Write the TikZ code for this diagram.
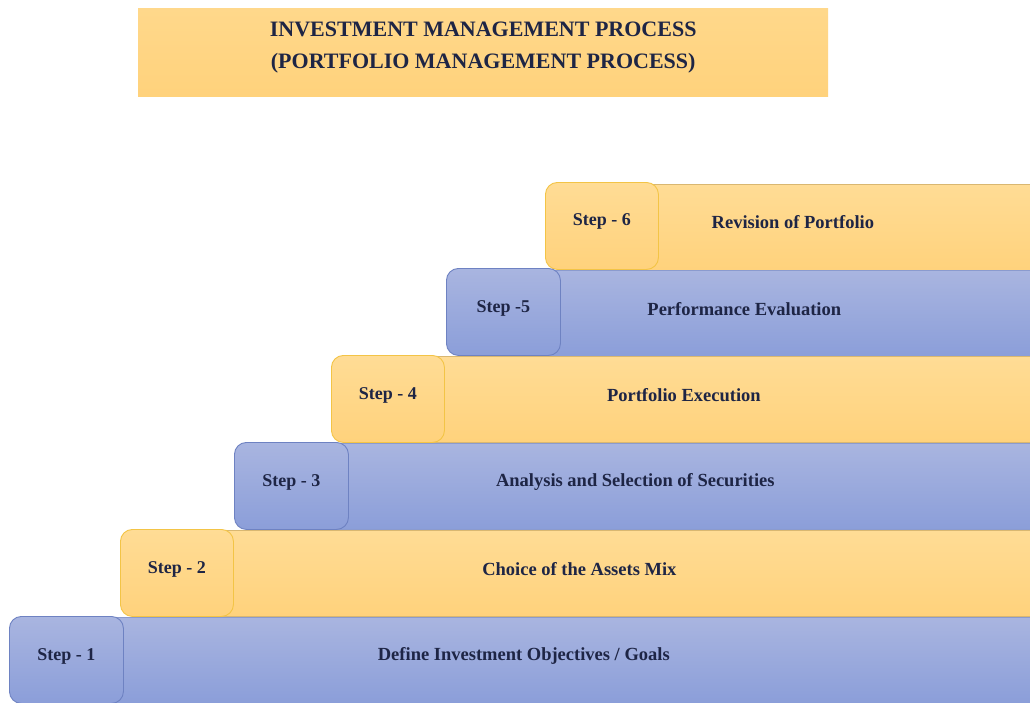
\documentclass[tikz,border=0pt]{standalone}
\usepackage{fontspec}
\setmainfont{Liberation Serif}
\usetikzlibrary{calc}
\definecolor{goldtop}{HTML}{FFDC95}
\definecolor{goldbot}{HTML}{FFD27C}
\definecolor{goldline}{HTML}{F3C446}
\definecolor{goldedge}{HTML}{D9B771}
\definecolor{bluetop}{HTML}{A9B5E0}
\definecolor{bluebot}{HTML}{8B9ED9}
\definecolor{blueline}{HTML}{6E82C2}
\definecolor{navytext}{HTML}{1E2545}
\tikzset{
  x=1pt, y=-1pt,
  titlebox/.style={draw=none, top color=goldtop!60!goldbot, bottom color=goldbot,
    minimum width=690pt, minimum height=88pt, anchor=north west, inner sep=0pt},
  goldbar/.style={draw=goldedge, line width=0.7pt, top color=goldtop, bottom color=goldbot,
    anchor=north west, inner sep=0pt, minimum height=86pt},
  bluebar/.style={draw=blueline!80, line width=0.6pt, top color=bluetop, bottom color=bluebot,
    anchor=north west, inner sep=0pt, minimum height=86pt},
  goldstep/.style={goldbar, draw=goldline, line width=0.9pt, rounded corners=12pt, minimum width=113pt, minimum height=87pt},
  bluestep/.style={bluebar, draw=blueline, line width=0.9pt, rounded corners=12pt, minimum width=114pt, minimum height=87pt},
  steplabel/.style={font=\bfseries\fontsize{18}{20}\selectfont, text=navytext},
  barlabel/.style={font=\bfseries\fontsize{18.5}{22}\selectfont, text=navytext},
}
\begin{document}
\begin{tikzpicture}
\useasboundingbox[fill=white] (0,0) rectangle (1030,702);

% heading
\node[titlebox] (title) at (138,8) {};
\node[font=\bfseries\fontsize{22}{32}\selectfont, text=navytext, align=center] (titletext)
  at ($(title.center)+(0,-5)$) {INVESTMENT MANAGEMENT PROCESS\\(PORTFOLIO MANAGEMENT PROCESS)};

% row 6
\node[goldbar, minimum width=430pt] (bar6) at (600,184) {};
\node[goldstep] (s6) at (545,182) {};
% row 5
\node[bluebar, minimum width=530pt] (bar5) at (500,270) {};
\node[bluestep] (s5) at (446,268) {};
% row 4
\node[goldbar, minimum width=642pt] (bar4) at (388,356) {};
\node[goldstep] (s4) at (331,355) {};
% row 3
\node[bluebar, minimum width=740pt] (bar3) at (290,443) {};
\node[bluestep] (s3) at (234,442) {};
% row 2
\node[goldbar, minimum width=854pt] (bar2) at (176,530) {};
\node[goldstep] (s2) at (120,529) {};
% row 1
\node[bluebar, minimum width=965pt, minimum height=86pt] (bar1) at (65,617) {};
\node[bluestep] (s1) at (9,616) {};

% step captions
\node[steplabel] (t6) at ($(s6.center)+(0,-4)$) {Step - 6};
\node[steplabel] (t5) at ($(s5.center)+(0,-4)$) {Step -5};
\node[steplabel] (t4) at ($(s4.center)+(0,-4)$) {Step - 4};
\node[steplabel] (t3) at ($(s3.center)+(0,-4)$) {Step - 3};
\node[steplabel] (t2) at ($(s2.center)+(0,-4)$) {Step - 2};
\node[steplabel] (t1) at ($(s1.center)+(0,-4)$) {Step - 1};

% stage descriptions
\node[barlabel] (d6) at ($(s6.west |- bar6.center)!0.5!(bar6.east)+(5,-5)$) {Revision of Portfolio};
\node[barlabel] (d5) at ($(s5.west |- bar5.center)!0.5!(bar5.east)+(6,-4)$) {Performance Evaluation};
\node[barlabel] (d4) at ($(s4.west |- bar4.center)!0.5!(bar4.east)+(3,-4)$) {Portfolio Execution};
\node[barlabel] (d3) at ($(s3.west |- bar3.center)!0.5!(bar3.east)+(3,-4)$) {Analysis and Selection of Securities};
\node[barlabel] (d2) at ($(s2.west |- bar2.center)!0.5!(bar2.east)+(4,-4)$) {Choice of the Assets Mix};
\node[barlabel] (d1) at ($(s1.west |- bar1.center)!0.5!(bar1.east)+(4,-4)$) {Define Investment Objectives / Goals};
\end{tikzpicture}
\end{document}
